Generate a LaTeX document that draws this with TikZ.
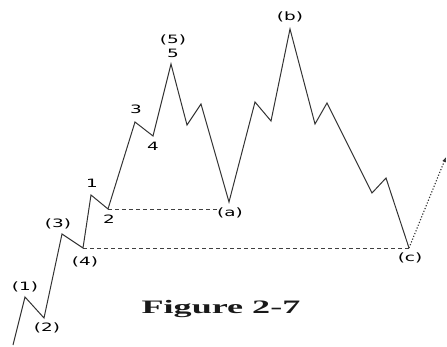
\documentclass[tikz,border=0pt]{standalone}
\usepackage{fontspec}
\setmainfont{Liberation Serif}
\setsansfont{DejaVu Sans}
\usetikzlibrary{arrows.meta}
\begin{document}
\begin{tikzpicture}[x=1pt,y=-1pt,
  wave/.style={draw=black!80,line width=1pt,line join=miter},
  guide/.style={draw=black!75,line width=0.9pt,dash pattern=on 4pt off 3pt},
  proj/.style={draw=black!80,line width=1.1pt,dash pattern=on 1.2pt off 1.8pt,-{Latex[length=5pt,width=4pt]}},
  lbl/.style={font=\sffamily\fontsize{11.5}{12}\selectfont,text=black,xscale=1.6,inner sep=0pt},
  figcaption/.style={font=\rmfamily\bfseries\fontsize{19}{20}\selectfont,text=black!90,xscale=1.9,inner sep=0pt}]
\useasboundingbox (0,0) rectangle (447,347);
\coordinate (s) at (13,345);
\coordinate (w1) at (25,297);
\coordinate (w2) at (44,318);
\coordinate (w3) at (62,234);
\coordinate (w4) at (83,248);
\coordinate (i1) at (91,195);
\coordinate (i2) at (108,209);
\coordinate (i3) at (135,122);
\coordinate (i4) at (153,136);
\coordinate (w5) at (171,64);
\coordinate (a1) at (187,125);
\coordinate (a2) at (201,104);
\coordinate (wa) at (229,202);
\coordinate (b1) at (255,102);
\coordinate (b2) at (271,121);
\coordinate (wb) at (290,29);
\coordinate (c1) at (315,124);
\coordinate (c2) at (327,103);
\coordinate (c3) at (372,193);
\coordinate (c4) at (386,178);
\coordinate (wc) at (409,248);
\coordinate (tip) at (446,157);
\draw[wave] (s) -- (w1) -- (w2) -- (w3) -- (w4) -- (i1) -- (i2) -- (i3) -- (i4) -- (w5)
  -- (a1) -- (a2) -- (wa) -- (b1) -- (b2) -- (wb) -- (c1) -- (c2) -- (c3) -- (c4) -- (wc);
\draw[proj] (wc) -- (tip);
\node[lbl] (l1) at (25,287) {(1)};
\node[lbl] (l2) at (47,328) {(2)};
\node[lbl] (l3) at (58,224) {(3)};
\node[lbl] (l4) at (85,262) {(4)};
\node[lbl] (m1) at (92,183) {1};
\node[lbl] (m2) at (109,219) {2};
\node[lbl] (m3) at (136,109) {3};
\node[lbl] (m4) at (153,146) {4};
\node[lbl] (m5) at (173,53) {5};
\node[lbl] (l5) at (173,40) {(5)};
\node[lbl] (la) at (230,213) {(a)};
\node[lbl] (lb) at (290,17) {(b)};
\node[lbl] (lc) at (410,258) {(c)};
\draw[guide] (i2) -- (i2 -| la.west);
\draw[guide] (w4) -- (wc);
\node[figcaption] (fig) at (221,309) {Figure 2-7};
\end{tikzpicture}
\end{document}
